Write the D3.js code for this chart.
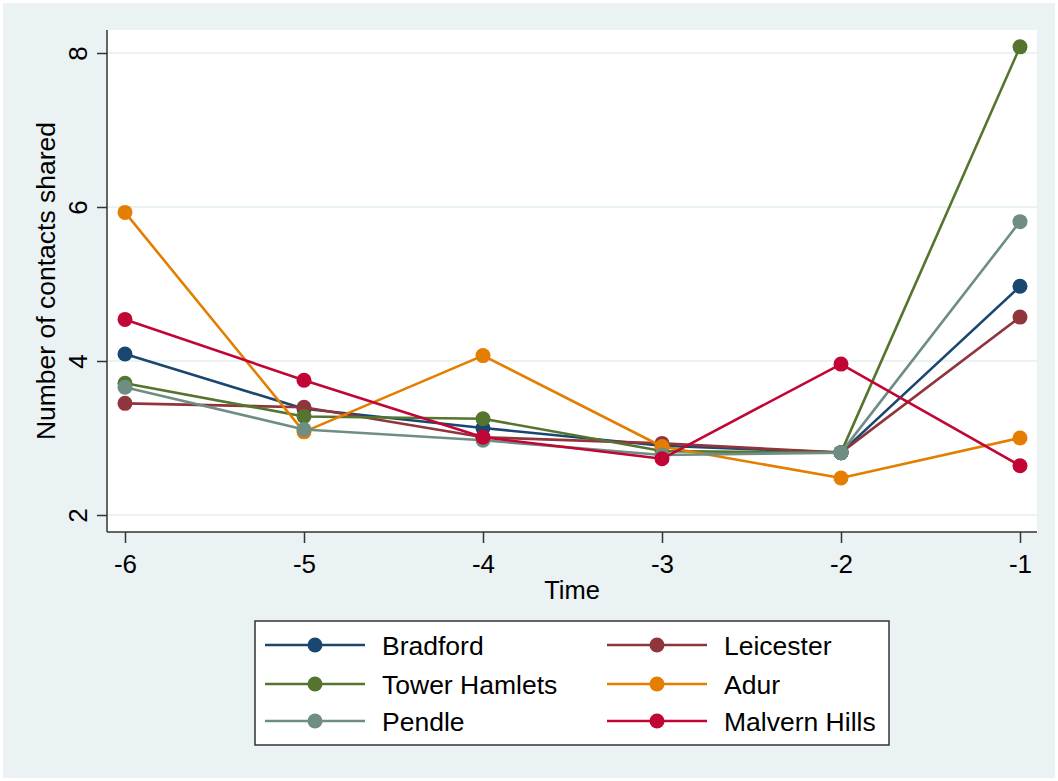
<!DOCTYPE html>
<html>
<head>
<meta charset="utf-8">
<script src="https://cdn.jsdelivr.net/npm/d3@7"></script>
<style>
  html, body { margin: 0; padding: 0; background: #ffffff; }
  svg { display: block; }
  text { font-family: "Liberation Sans", Arial, sans-serif; fill: #000; }
</style>
</head>
<body>
<svg id="chart" width="1058" height="781"></svg>
<script>
// ---- Data ----
const times = [-6, -5, -4, -3, -2, -1];
const bradford     = [4.09, 3.38, 3.13, 2.90, 2.81, 4.97];
const leicester    = [3.45, 3.40, 3.01, 2.93, 2.81, 4.57];
const towerHamlets = [3.71, 3.28, 3.25, 2.83, 2.81, 8.08];
const adur         = [5.93, 3.08, 4.07, 2.89, 2.48, 3.00];
const pendle       = [3.66, 3.11, 2.97, 2.78, 2.81, 5.81];
const malvernHills = [4.54, 3.75, 3.01, 2.73, 3.96, 2.64];
const seriesNames  = ["Bradford", "Leicester", "Tower Hamlets", "Adur", "Pendle", "Malvern Hills"];
const seriesColors = ["#1A476F", "#90353B", "#55752F", "#E37E00", "#6E8E84", "#C10534"];
const yTicks = [2, 4, 6, 8];
const xTicks = [-6, -5, -4, -3, -2, -1];
const xTitle = "Time";
const yTitle = "Number of contacts shared";

const seriesValues = [bradford, leicester, towerHamlets, adur, pendle, malvernHills];
const series = seriesNames.map((n, i) => ({
  name: n, color: seriesColors[i],
  points: times.map((t, j) => ({ t: t, v: seriesValues[i][j] }))
}));

const svg = d3.select("#chart");
const W = 1058, H = 781;
const bg = "#EAF2F3";
const fmt = d => String(d);  // plain hyphen-minus like the reference

// outer background
svg.append("rect").attr("x", 0).attr("y", 0).attr("width", W).attr("height", H).attr("fill", "#ffffff");
svg.append("rect").attr("x", 3).attr("y", 3).attr("width", W - 6).attr("height", H - 6).attr("fill", bg);

// plot region
const plot = { left: 107, right: 1037, top: 30, bottom: 532 };
svg.append("rect").attr("x", plot.left).attr("y", plot.top)
  .attr("width", plot.right - plot.left).attr("height", plot.bottom - plot.top)
  .attr("fill", "#ffffff");

const x = d3.scaleLinear().domain([-6, -1]).range([125, 1020]);
const y = d3.scaleLinear().domain([2, 8]).range([515, 53]);

// gridlines
svg.append("g").selectAll("line").data(yTicks).join("line")
  .attr("x1", plot.left).attr("x2", plot.right)
  .attr("y1", d => y(d)).attr("y2", d => y(d))
  .attr("stroke", bg).attr("stroke-width", 2);

// y axis
const yAxis = d3.axisLeft(y).tickValues(yTicks).tickSize(10).tickPadding(0).tickFormat(fmt);
const gy = svg.append("g").attr("transform", `translate(${plot.left},0)`).call(yAxis);
gy.select(".domain").attr("d", `M0,${plot.top}V${plot.bottom}`).attr("stroke", "#333").attr("stroke-width", 1.5);
gy.selectAll(".tick line").attr("stroke", "#333").attr("stroke-width", 1.5);
gy.selectAll(".tick text")
  .attr("x", null).attr("dy", null)
  .attr("transform", "translate(-20,0) rotate(-90)")
  .attr("text-anchor", "middle")
  .attr("font-size", 26)
  .style("font-family", '"Liberation Sans", Arial, sans-serif')
  .attr("fill", "#000");

// x axis
const xAxis = d3.axisBottom(x).tickValues(xTicks).tickSize(11).tickPadding(0).tickFormat(fmt);
const gx = svg.append("g").attr("transform", `translate(0,${plot.bottom})`).call(xAxis);
gx.select(".domain").attr("d", `M${plot.left},0H${plot.right}`).attr("stroke", "#333").attr("stroke-width", 1.5);
gx.selectAll(".tick line").attr("stroke", "#333").attr("stroke-width", 1.5);
gx.selectAll(".tick text")
  .attr("y", null).attr("dy", null)
  .attr("transform", "translate(0,41)")
  .attr("text-anchor", "middle")
  .attr("font-size", 26)
  .style("font-family", '"Liberation Sans", Arial, sans-serif')
  .attr("fill", "#000");

// axis titles
svg.append("text")
  .attr("transform", `translate(${(plot.left + plot.right) / 2},599)`)
  .attr("text-anchor", "middle").attr("font-size", 25.5).text(xTitle);
svg.append("text")
  .attr("transform", `translate(55,${(plot.top + plot.bottom) / 2}) rotate(-90)`)
  .attr("text-anchor", "middle").attr("font-size", 26.5).text(yTitle);

// series
const line = d3.line().x(d => x(d.t)).y(d => y(d.v));
const gs = svg.append("g");
series.forEach(s => {
  const g = gs.append("g");
  g.append("path").attr("d", line(s.points)).attr("fill", "none")
    .attr("stroke", s.color).attr("stroke-width", 2.6).attr("stroke-linejoin", "round");
  g.selectAll("circle").data(s.points).join("circle")
    .attr("cx", d => x(d.t)).attr("cy", d => y(d.v)).attr("r", 7.5)
    .attr("fill", s.color);
});

// legend
const leg = { x: 255, y: 621, w: 634, h: 124 };
svg.append("rect").attr("x", leg.x).attr("y", leg.y).attr("width", leg.w).attr("height", leg.h)
  .attr("fill", "#ffffff").attr("stroke", "#333").attr("stroke-width", 1.5);
const colX = [265, 607];
const rowY = [645, 684, 721];
series.forEach((s, i) => {
  const cx = colX[i % 2], cy = rowY[Math.floor(i / 2)];
  const g = svg.append("g").attr("transform", `translate(${cx},${cy})`);
  g.append("line").attr("x1", 0).attr("x2", 100).attr("y1", 0).attr("y2", 0)
    .attr("stroke", s.color).attr("stroke-width", 2.6);
  g.append("circle").attr("cx", 50).attr("cy", 0).attr("r", 7.5).attr("fill", s.color);
  g.append("text").attr("x", 117).attr("y", 9.5)
    .attr("font-size", 26.5).text(s.name);
});
</script>
</body>
</html>
